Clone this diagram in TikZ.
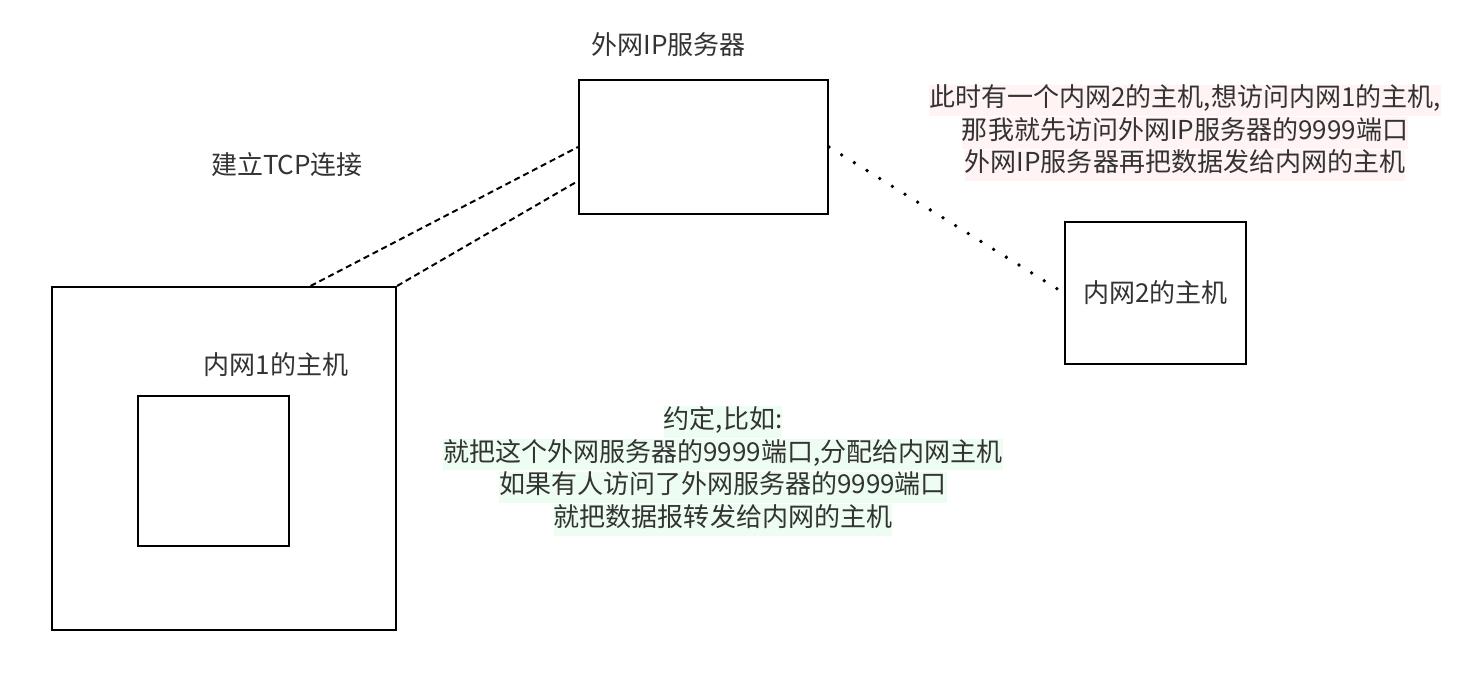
\documentclass[tikz,border=0pt]{standalone}
\usepackage{fontspec}
\setmainfont{Noto Sans CJK SC}
\usetikzlibrary{positioning,calc}
\definecolor{ink}{HTML}{000000}
\definecolor{textc}{HTML}{333333}
\definecolor{notepink}{HTML}{FFF3F3}
\definecolor{notegreen}{HTML}{EDFDF1}
\newcommand{\hlline}[2]{{\setlength{\fboxsep}{0pt}\colorbox{#1}{\strut #2}}}

\begin{document}
\begin{tikzpicture}[
  x=0.025cm, y=-0.025cm,
  every node/.style={font=\fontsize{18.5}{22}\selectfont, text=textc},
  hostbox/.style={draw=ink, line width=1.4pt, inner sep=0pt},
  tcpline/.style={draw=ink, line width=1.4pt, dash pattern=on 4.3pt off 2.8pt},
  visitline/.style={draw=ink, line width=2.7pt, line cap=round, dash pattern=on 0pt off 10.6pt}
]
\useasboundingbox (0,0) rectangle (1464,673);

% Server with public IP
\node[hostbox, minimum width=6.225cm, minimum height=3.35cm] (server) at (703.5,147) {};
\node (servertitle) at (668.5,45) {外网IP服务器};

% Host in LAN 1
\node[hostbox, minimum width=8.6cm, minimum height=8.575cm] (host1) at (224,458.5) {};
\node[hostbox, minimum width=3.775cm, minimum height=3.75cm] (host1inner) at (213.5,471) {};
\node (host1title) at (276,365) {内网1的主机};

% Host in LAN 2
\node[hostbox, minimum width=4.525cm, minimum height=3.55cm] (host2) at (1155.5,293) {内网2的主机};

% TCP connection
\node (tcptitle) at (287,165) {建立TCP连接};
\draw[tcpline] ($(host1.north)!0.5!(host1.north east)$) -- (server.west);
\draw[tcpline] (host1.north east) -- ($(server.west)!0.5!(server.south west)$);

% Visit from LAN 2
\draw[visitline] (server.east) -- (host2.west);

% Notes
\node[align=center, inner sep=0pt] (visitnote) at (1185,133) {%
  \hlline{notepink}{此时有一个内网2的主机,想访问内网1的主机,}\\
  \hlline{notepink}{那我就先访问外网IP服务器的9999端口}\\
  \hlline{notepink}{外网IP服务器再把数据发给内网的主机}};
\node[align=center, inner sep=0pt] (rulenote) at (723,471) {%
  \hlline{notegreen}{约定,比如:}\\
  \hlline{notegreen}{就把这个外网服务器的9999端口,分配给内网主机}\\
  \hlline{notegreen}{如果有人访问了外网服务器的9999端口}\\
  \hlline{notegreen}{就把数据报转发给内网的主机}};

\end{tikzpicture}
\end{document}
